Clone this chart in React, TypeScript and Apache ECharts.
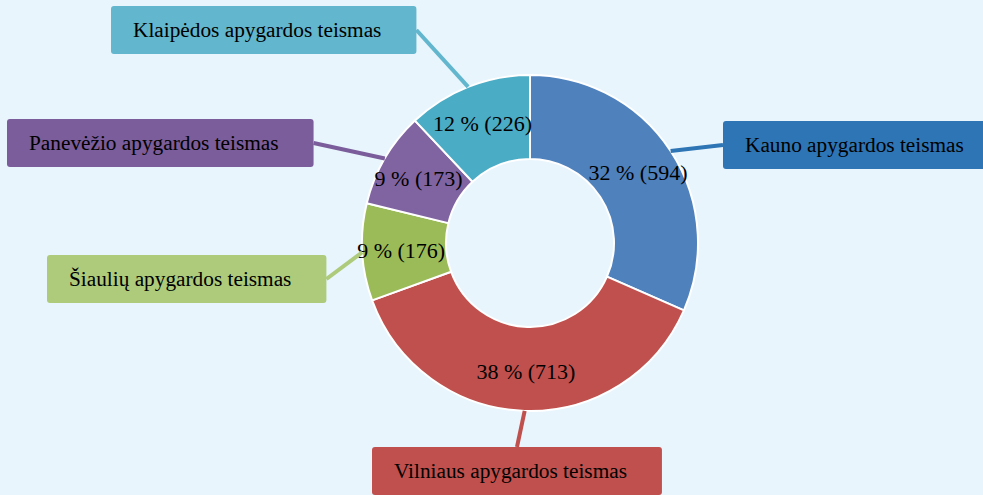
import React, { useEffect, useRef } from 'react';
import * as echarts from 'echarts';

const categories = [
  'Kauno apygardos teismas',
  'Vilniaus apygardos teismas',
  'Šiaulių apygardos teismas',
  'Panevėžio apygardos teismas',
  'Klaipėdos apygardos teismas',
];
const values = [594, 713, 176, 173, 226];

const sliceColors = ['#4f81bd', '#c0504d', '#9bbb59', '#8064a2', '#4bacc6'];
const boxColors = ['#2e75b6', '#c0504d', '#adcb7b', '#7a5d9a', '#62b6cd'];
// top-left corner of each callout box
const boxPositions: [number, number][] = [
  [723, 121],
  [372, 447],
  [47, 255],
  [7, 119],
  [111, 6],
];

export default function App() {
  const ref = useRef<HTMLDivElement>(null);
  useEffect(() => {
    const chart = echarts.init(ref.current!, null, { renderer: 'svg' });
    const font = "'Liberation Serif', 'Times New Roman', serif";
    const common = {
      type: 'pie',
      center: [530, 243],
      radius: [84, 168],
      startAngle: 90,
      clockwise: true,
      percentPrecision: 0,
      silent: true,
    };
    chart.setOption({
      animation: false,
      backgroundColor: '#e8f5fc',
      series: [
        {
          ...common,
          data: categories.map((n, i) => ({
            name: n,
            value: values[i],
            itemStyle: { color: sliceColors[i] },
          })),
          itemStyle: { borderColor: '#ffffff', borderWidth: 2 },
          label: {
            show: true,
            position: 'inside',
            formatter: '{d} % ({c})',
            color: '#000',
            fontFamily: font,
            fontSize: 22,
          },
          labelLine: { show: false },
        },
        {
          ...common,
          z: 3,
          data: categories.map((n, i) => ({
            name: n,
            value: values[i],
            label: { backgroundColor: boxColors[i] },
            labelLine: { lineStyle: { color: boxColors[i] } },
          })),
          itemStyle: { color: 'rgba(0,0,0,0)', borderWidth: 0 },
          label: {
            show: true,
            position: 'outside',
            formatter: '{b}',
            color: '#000',
            fontFamily: font,
            fontSize: 21.3,
            lineHeight: 24,
            padding: [12, 35, 12, 22],
            borderRadius: 3,
          },
          labelLine: {
            show: true,
            length: 10,
            length2: 0,
            lineStyle: { width: 4 },
          },
          labelLayout: (p: any) => ({
            x: boxPositions[p.dataIndex][0],
            y: boxPositions[p.dataIndex][1],
            align: 'left',
            verticalAlign: 'top',
          }),
        },
      ],
    });
    return () => chart.dispose();
  }, []);
  return (
    <div
      ref={ref}
      style={{ position: 'absolute', left: 0, top: 0, width: 983, height: 495 }}
    />
  );
}
